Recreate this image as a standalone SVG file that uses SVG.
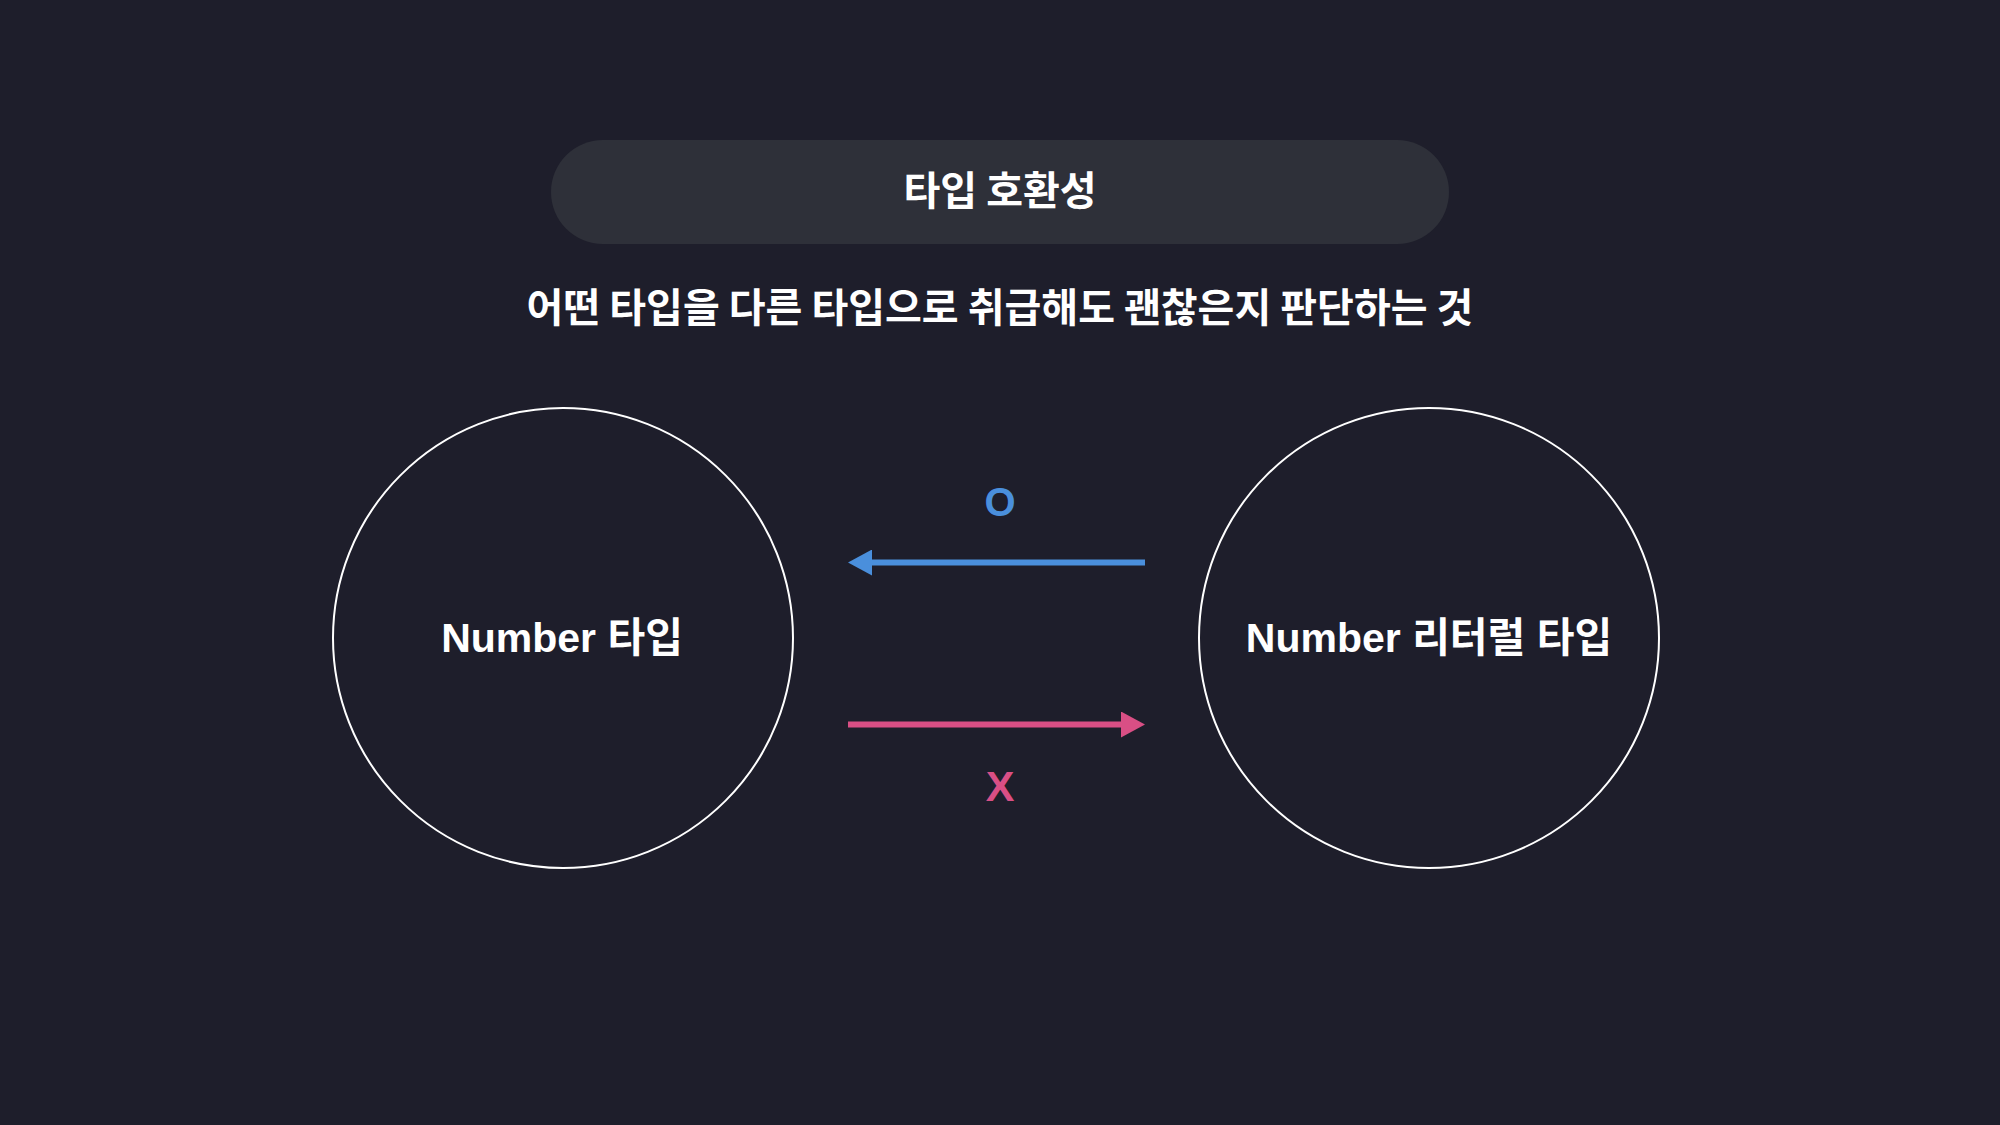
<svg xmlns="http://www.w3.org/2000/svg" width="2000" height="1125" viewBox="0 0 2000 1125">
<style>
.bg{fill:#1e1e2b}
.pill{fill:#2e3039}
.kr{font-family:"Noto Sans CJK KR","Noto Sans",sans-serif;font-weight:700;fill:#ffffff;text-anchor:middle;dominant-baseline:central}
.node circle{fill:none;stroke:#ffffff;stroke-width:2}
.lbl{font-family:"Liberation Sans","Noto Sans CJK KR",sans-serif;font-weight:700;font-size:41px;fill:#ffffff;text-anchor:middle;dominant-baseline:central}
.mark{font-family:"Liberation Sans",Arial,sans-serif;font-weight:700;text-anchor:middle}
</style>
<defs>
<marker id="ab" viewBox="0 0 24 26" refX="0" refY="13" markerWidth="24" markerHeight="26" markerUnits="userSpaceOnUse" orient="auto"><path d="M0 0L24 13L0 26Z" fill="#4a8fdc"/></marker>
<marker id="ar" viewBox="0 0 24 26" refX="0" refY="13" markerWidth="24" markerHeight="26" markerUnits="userSpaceOnUse" orient="auto"><path d="M0 0L24 13L0 26Z" fill="#d94f85"/></marker>
</defs>
<rect class="bg" x="0" y="0" width="2000" height="1125"/>
<g id="title">
<rect class="pill" x="551" y="140" width="898" height="104" rx="52"/>
<text class="kr" x="1000" y="188" font-size="40">타입 호환성</text>
</g>
<g id="subtitle">
<text class="kr" x="1000" y="305" font-size="40">어떤 타입을 다른 타입으로 취급해도 괜찮은지 판단하는 것</text>
</g>
<g id="number" class="node">
<circle cx="563" cy="638" r="230"/>
<text class="lbl" x="562" y="638">Number 타입</text>
</g>
<g id="literal" class="node">
<circle cx="1429" cy="638" r="230"/>
<text class="lbl" x="1429" y="638">Number 리터럴 타입</text>
</g>
<g id="connectors">
<line x1="1145" y1="562.5" x2="872" y2="562.5" stroke="#4a8fdc" stroke-width="6" marker-end="url(#ab)"/>
<text class="mark" x="1000" y="516" font-size="40" fill="#4a8fdc">O</text>
<line x1="848" y1="724.5" x2="1121" y2="724.5" stroke="#d94f85" stroke-width="6" marker-end="url(#ar)"/>
<text class="mark" x="1000" y="801" font-size="43" fill="#d94f85">X</text>
</g>
</svg>
